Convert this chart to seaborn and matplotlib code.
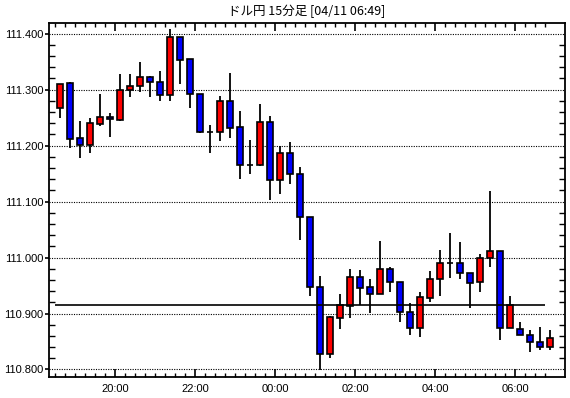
import numpy as np
import pandas as pd
import matplotlib
matplotlib.use("Agg")
import matplotlib.pyplot as plt
from matplotlib.ticker import MultipleLocator, FixedLocator, FuncFormatter
import seaborn as sns

# USD/JPY 15-minute candles (first bar starts 18:30)
opens = [111.268, 111.312, 111.213, 111.201, 111.239, 111.252, 111.246, 111.300, 111.306, 111.322,
         111.313, 111.290, 111.395, 111.354, 111.293, 111.225, 111.224, 111.279, 111.233, 111.166,
         111.165, 111.243, 111.138, 111.186, 111.149, 111.072, 110.948, 110.827, 110.892, 110.914,
         110.966, 110.947, 110.934, 110.979, 110.957, 110.902, 110.875, 110.927, 110.961, 110.990,
         110.990, 110.972, 110.956, 110.999, 111.011, 110.874, 110.872, 110.861, 110.849, 110.840]
highs = [111.311, 111.314, 111.244, 111.249, 111.292, 111.258, 111.328, 111.328, 111.349, 111.324,
         111.333, 111.409, 111.395, 111.354, 111.293, 111.237, 111.288, 111.329, 111.262, 111.210,
         111.274, 111.253, 111.200, 111.206, 111.161, 111.072, 110.967, 110.895, 110.935, 110.979,
         110.978, 110.962, 111.029, 110.983, 110.957, 110.918, 110.938, 110.976, 111.013, 111.044,
         111.028, 110.972, 111.006, 111.119, 111.011, 110.931, 110.884, 110.870, 110.876, 110.870]
lows = [111.249, 111.196, 111.178, 111.187, 111.235, 111.215, 111.244, 111.287, 111.296, 111.287,
        111.280, 111.280, 111.310, 111.267, 111.223, 111.187, 111.209, 111.214, 111.141, 111.150,
        111.164, 111.103, 111.113, 111.132, 111.032, 110.931, 110.799, 110.821, 110.873, 110.892,
        110.916, 110.901, 110.934, 110.939, 110.884, 110.862, 110.858, 110.920, 110.932, 110.964,
        110.962, 110.909, 110.939, 110.984, 110.853, 110.874, 110.861, 110.832, 110.834, 110.835]
closes = [111.311, 111.212, 111.201, 111.240, 111.252, 111.247, 111.299, 111.306, 111.322, 111.313,
          111.290, 111.395, 111.353, 111.293, 111.225, 111.225, 111.279, 111.232, 111.166, 111.166,
          111.243, 111.138, 111.186, 111.149, 111.072, 110.948, 110.827, 110.893, 110.916, 110.966,
          110.945, 110.934, 110.979, 110.957, 110.902, 110.875, 110.929, 110.961, 110.990, 110.990,
          110.972, 110.954, 111.000, 111.011, 110.874, 110.915, 110.861, 110.849, 110.840, 110.857]
ref_level = 110.916
title = "ドル円 15分足 [04/11 06:49]"

times = pd.date_range("2018-04-10 18:30", periods=len(opens), freq="15min")
df = pd.DataFrame({"time": times, "open": opens, "high": highs, "low": lows, "close": closes})
df["idx"] = np.arange(len(df))
df["up"] = df["close"] >= df["open"]
df["bottom"] = df[["open", "close"]].min(axis=1)
df["height"] = (df["close"] - df["open"]).abs()

sns.set_theme(style="white")
plt.rcParams["font.family"] = ["Liberation Sans", "DejaVu Sans"]

fig, ax = plt.subplots(figsize=(5.7, 3.98), dpi=100)
fig.subplots_adjust(left=0.086, right=0.991, top=0.942, bottom=0.052)

# wicks
ax.vlines(df["idx"], df["low"], df["high"], color="black", linewidth=1.3, zorder=2)
# bodies
colors = np.where(df["up"], "#FF0000", "#0000FF")
ax.bar(df["idx"], df["height"], bottom=df["bottom"], width=0.66, color=colors,
       edgecolor="black", linewidth=1.2, zorder=3)

# reference level
ax.hlines(ref_level, -0.5, len(df) - 1.5, color="black", linewidth=1.2, zorder=4)

ax.set_xlim(-1.1, 50.47)
ax.set_ylim(110.786, 111.419)

# y axis
ax.yaxis.set_major_locator(MultipleLocator(0.1))
ax.yaxis.set_minor_locator(MultipleLocator(0.02))
ax.yaxis.set_major_formatter(FuncFormatter(lambda v, p: f"{v:.3f}"))
ax.grid(axis="y", which="major", color="black", linestyle=(0, (1, 1.2)), linewidth=0.8)
ax.grid(axis="x", visible=False)

# x axis: ticks on the bar boundaries, labels every two hours
edges = df["idx"] - 0.5
major_pos = [i - 0.5 for i, t in zip(df["idx"], df["time"]) if t.minute == 0 and t.hour % 2 == 0]
major_lab = [t.strftime("%H:%M") for t in df["time"] if t.minute == 0 and t.hour % 2 == 0]
ax.xaxis.set_major_locator(FixedLocator(major_pos))
ax.set_xticklabels(major_lab)
ax.xaxis.set_minor_locator(FixedLocator(list(edges)))

ax.tick_params(axis="x", which="major", direction="in", length=6, width=1.2,
               top=True, bottom=True, labelsize=8, pad=5, color="black")
ax.tick_params(axis="x", which="minor", direction="in", length=3, width=1,
               top=True, bottom=True, color="black")
ax.tick_params(axis="y", which="major", direction="out", length=3, width=1.2,
               left=True, right=False, labelsize=8, pad=1, color="black")
ax.tick_params(axis="y", which="minor", direction="in", length=4, width=1,
               left=True, right=True, color="black")
for lab in ax.get_xticklabels() + ax.get_yticklabels():
    lab.set_color("black")

for s in ax.spines.values():
    s.set_color("black")
    s.set_linewidth(1.3)

fig.text(0.538, 0.972, title, ha="center", va="center", fontsize=9,
         family=["Noto Sans CJK JP", "DejaVu Sans"], color="black")

fig.savefig("out.png", dpi=100)
